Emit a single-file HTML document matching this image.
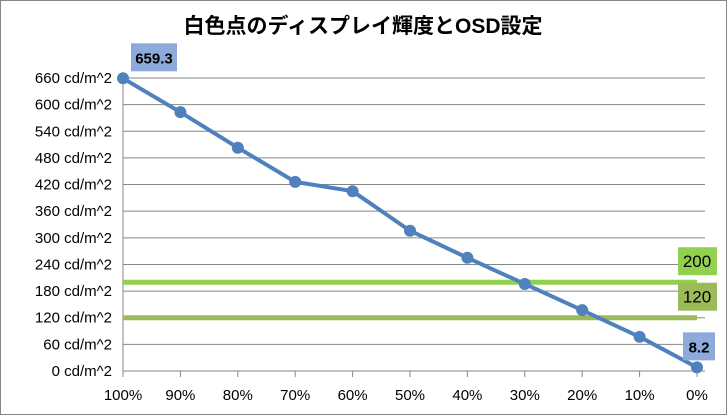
<!DOCTYPE html>
<html><head><meta charset="utf-8"><style>
body{margin:0;background:#fff}
svg{display:block;font-family:"Liberation Sans","Noto Sans CJK JP",sans-serif}
</style></head><body>
<svg width="727" height="415">
<rect x="0.5" y="0.5" width="726" height="414" fill="#fff" stroke="#868686"/>
<text x="363" y="33" text-anchor="middle" font-size="21" font-weight="bold">白色点のディスプレイ輝度とOSD設定</text>
<g id="grid"></g><g id="ylab"></g><g id="xlab"></g><g id="refs"></g><g id="series"></g>
</svg>
<script>
const categories=["100%","90%","80%","70%","60%","50%","40%","30%","20%","10%","0%"];
const values=[659.3,583,503,426,405,316,255,196,137,77,8.2];
const yTicks=[0,60,120,180,240,300,360,420,480,540,600,660];
const refValues=[200,120];
const refColors=["#92d050","#9bbb59"];
const NS="http://www.w3.org/2000/svg";
const X0=123,X1=697,Y0=371,Ymax=660,YTop=78;
const x=i=>X0+i*(X1-X0)/(categories.length-1);
const y=v=>Y0-v/Ymax*(Y0-YTop);
function mk(t,a,p){const e=document.createElementNS(NS,t);for(const k in a)e.setAttribute(k,a[k]);p.appendChild(e);return e;}
const G=document.getElementById('grid'),YL=document.getElementById('ylab'),XL=document.getElementById('xlab'),R=document.getElementById('refs'),S=document.getElementById('series');
yTicks.forEach(v=>{
 const l=mk('line',{x1:X0,x2:705,y1:y(v),y2:y(v),stroke:'#868686','stroke-width':1},G);
 
 
 const t=mk('text',{x:112,y:y(v)+5,'text-anchor':'end','font-size':15},YL);t.textContent=v+' cd/m^2';
 
 
});
mk('line',{x1:X0,x2:X0,y1:YTop,y2:Y0,stroke:'#868686'},G);
categories.forEach((c,i)=>{
 const tk=mk('line',{x1:x(i),x2:x(i),y1:Y0,y2:Y0+6,stroke:'#868686'},G);
 
 
 const t=mk('text',{x:x(i),y:400,'text-anchor':'middle','font-size':15},XL);t.textContent=c;
 
 
});
refValues.forEach((v,k)=>{
 const l=mk('line',{x1:X0,x2:X1,y1:y(v),y2:y(v),stroke:refColors[k],'stroke-width':5},R);
 
 
 const b=mk('rect',{x:678,y:y(v)-35,width:39,height:28,fill:refColors[k]},R);
 
 
 const t=mk('text',{x:697,y:y(v)-15,'text-anchor':'middle','font-size':17},R);t.textContent=v;
 
 
});
const pl=mk('polyline',{points:values.map((v,i)=>x(i)+','+y(v)).join(' '),fill:'none',stroke:'#4f81bd','stroke-width':4,'stroke-linejoin':'round'},S);


values.forEach((v,i)=>{
 const c=mk('circle',{cx:x(i),cy:y(v),r:6,fill:'#4f81bd'},S);
 
 
});
[[0,values[0]],[values.length-1,values[values.length-1]]].forEach(([i,v])=>{
 const bx=i===0?x(i)+8:x(i)-14,by=y(v)-35;
 const b=mk('rect',{x:bx,y:by,width:i===0?46:32,height:28,fill:'#8eaadb'},S);
 
 
 const t=mk('text',{x:bx+(i===0?23:16),y:by+20,'text-anchor':'middle','font-size':15,'font-weight':'bold'},S);t.textContent=v;
 
 
});
</script>
</body></html>
